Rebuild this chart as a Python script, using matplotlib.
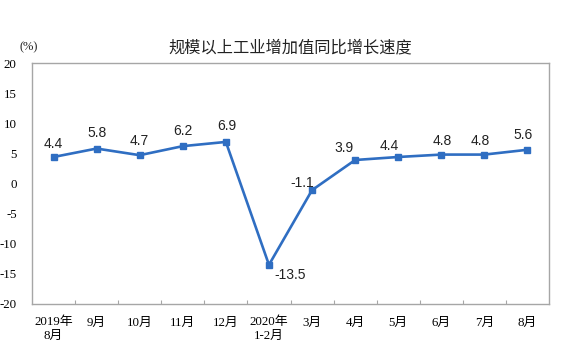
import numpy as np
import matplotlib
matplotlib.use('Agg')
import matplotlib.pyplot as plt

plt.rcParams['axes.unicode_minus'] = False

months = ['2019年\n8月', '9月', '10月', '11月', '12月', '2020年\n1-2月',
          '3月', '4月', '5月', '6月', '7月', '8月']
growth = [4.4, 5.8, 4.7, 6.2, 6.9, -13.5, -1.1, 3.9, 4.4, 4.8, 4.8, 5.6]
yticks = [-20, -15, -10, -5, 0, 5, 10, 15, 20]

serif = ['Liberation Serif', 'Noto Sans CJK SC']
sans = ['Liberation Sans', 'Noto Sans CJK SC']
blue = '#2F6EC2'
grey = '#A6A6A6'

fig = plt.figure(figsize=(5.67, 3.58), dpi=100)
ax = fig.add_axes([32 / 567, 1 - 304 / 358, 517 / 567, 241 / 358])

x = np.arange(len(months))
ax.plot(x, growth, color=blue, lw=1.9, marker='s', ms=3.8, mec=blue, mfc=blue)

# label offsets in pixels (dx, dy)
offsets = [(0, 13), (0, 16), (0, 14), (0, 15), (1, 16), (21, -10),
           (-10, 7), (-11, 12), (-9, 11), (1, 14), (-4, 14), (-4, 15)]
for xi, v, (dx, dy) in zip(x, growth, offsets):
    ax.annotate(f'{v}', (xi, v), xytext=(dx, dy), textcoords='offset pixels',
                ha='center', va='center', fontsize=10, family=sans, color='#222222')

ax.set_xlim(-0.5, len(months) - 0.5)
ax.set_ylim(-20, 20)
ax.set_yticks(yticks)
ax.set_yticklabels([str(t) for t in yticks], family=serif, fontsize=9.3)
ax.tick_params(axis='y', length=0, pad=11)

ax.set_xticks(x)
ax.set_xticklabels(months, family=serif, fontsize=9.3, linespacing=1.15)
ax.tick_params(axis='x', length=0, pad=9)
ax.set_xticks(np.arange(0.5, len(months) - 1, 1), minor=True)
ax.tick_params(axis='x', which='minor', direction='in', length=3, color=grey, width=0.8)

for s in ax.spines.values():
    s.set_color(grey)
    s.set_linewidth(1.0)

fig.text(290 / 567, 1 - 47 / 358, '规模以上工业增加值同比增长速度', ha='center', va='center',
         fontsize=11.7, family=sans, color='#222222')
fig.text(29 / 567, 1 - 47 / 358, '(%)', ha='center', va='center', fontsize=9,
         family=serif, color='#222222')

fig.savefig('out.png', dpi=100)
